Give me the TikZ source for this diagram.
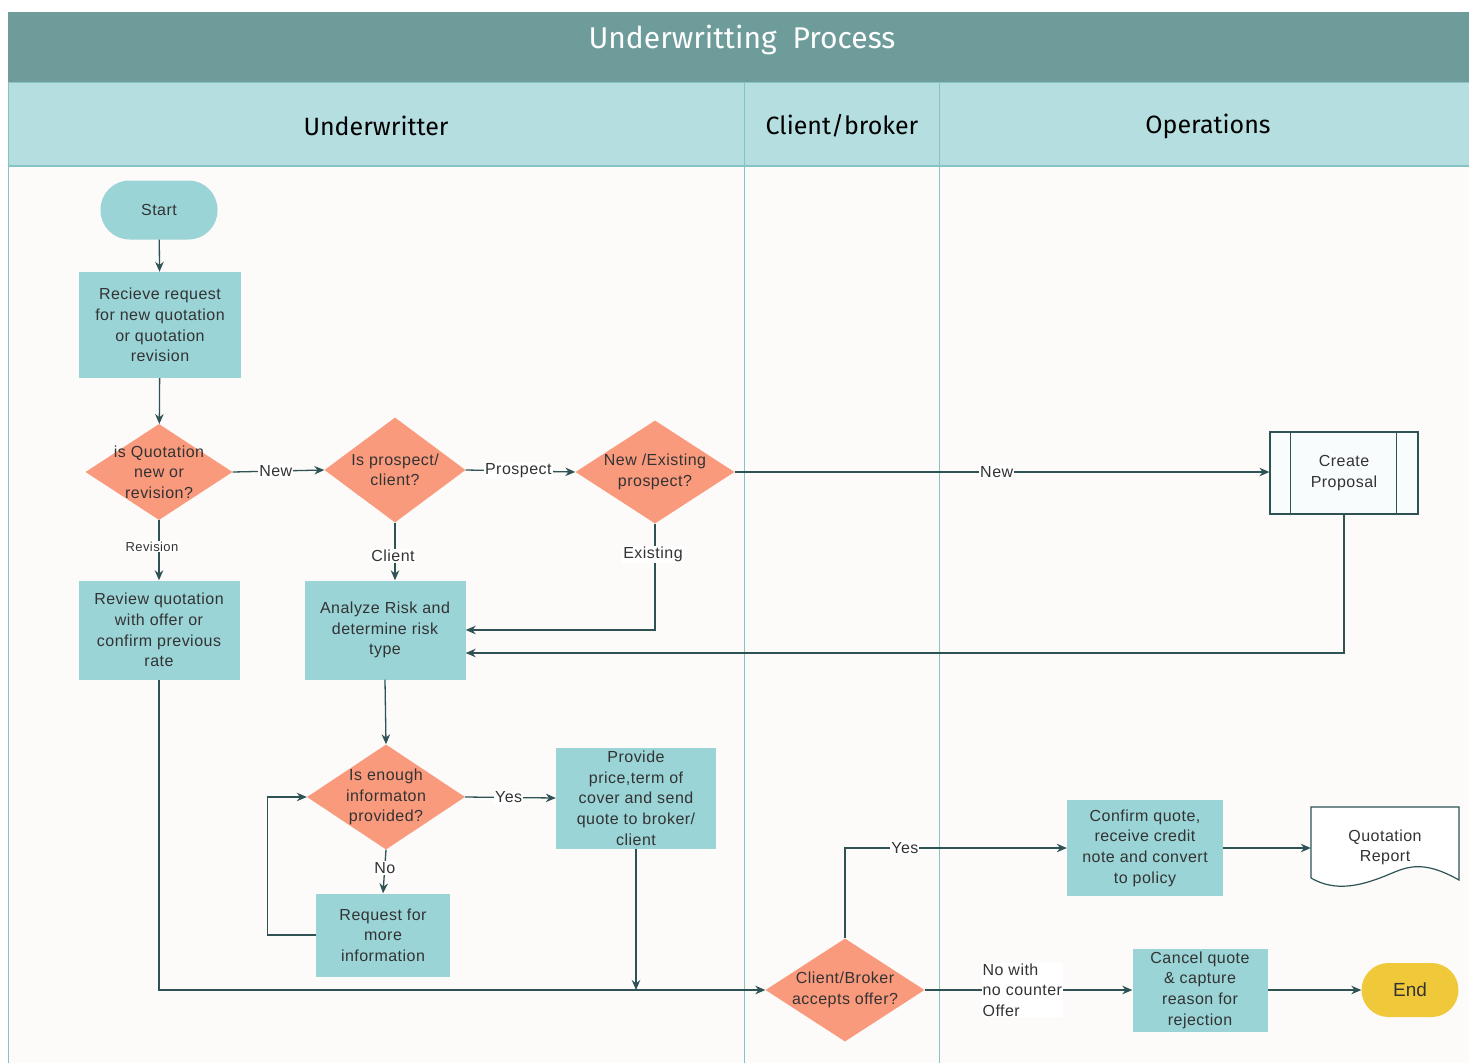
\documentclass[tikz,border=0pt]{standalone}
\usepackage{fontspec}
\setmainfont{Liberation Sans}
\newfontfamily\boxfont[LetterSpace=3]{Liberation Sans}
\newfontfamily\headfont{Fira Sans}
\usetikzlibrary{shapes.geometric,arrows.meta,calc}

\definecolor{titlebar}{HTML}{6E9C9B}
\definecolor{lanehead}{HTML}{B4DEE0}
\definecolor{laneline}{HTML}{86C3C4}
\definecolor{paper}{HTML}{FCFBFA}
\definecolor{procfill}{HTML}{9AD4D6}
\definecolor{decfill}{HTML}{FA9A7D}
\definecolor{endfill}{HTML}{F0C93B}
\definecolor{wire}{HTML}{2F5355}
\definecolor{ink}{HTML}{333333}

\tikzset{
  proc/.style={rectangle, fill=procfill, draw=none, inner sep=0pt,
    text=ink, align=center, font=\boxfont\fontsize{16}{20.7}\selectfont},
  decision/.style={diamond, fill=decfill, draw=none, inner sep=0pt, aspect=1.5},
  dectext/.style={text=ink, align=center, font=\boxfont\fontsize{16}{20.5}\selectfont},
  terminal/.style={rectangle, inner sep=0pt, text=ink, font=\boxfont\fontsize{16}{18}\selectfont},
  flow/.style={draw=wire, line width=1.3pt, -{Stealth[length=10pt,width=8.5pt]}},
  tag/.style={fill=white, inner sep=1pt, text=ink, font=\boxfont\fontsize{16}{17}\selectfont},
  lanetitle/.style={text=black, font=\headfont\fontsize{25}{28}\selectfont}
}

\begin{document}
\begin{tikzpicture}[x=1pt, y=-1pt]
  \useasboundingbox (0,0) rectangle (1469,1063);
  \fill[white] (0,0) rectangle (1469,1063);

  % pool: title bar, lane headers and lane bodies
  \fill[paper] (8,166) rectangle (1469,1063);
  \fill[titlebar] (8,12) rectangle (1469,82);
  \fill[lanehead] (8,82) rectangle (1469,166);
  \draw[laneline, line width=1pt] (8,82) -- (8,1063);
  \draw[laneline, line width=1pt] (744,82) -- (744,1063);
  \draw[laneline, line width=1pt] (939,82) -- (939,1063);
  \draw[laneline, line width=1.2pt] (8,166) -- (1469,166);
  \draw[laneline, line width=1pt] (8,82) -- (1469,82);

  \node (title) [text=white, font=\headfont\fontsize{30}{34}\selectfont] at (742,40) {Underwritting\ \ Process};
  \node (lane1) [lanetitle] at (376,126) {Underwritter};
  \node (lane2) [lanetitle] at (842,126) {Client/broker};
  \node (lane3) [lanetitle] at (1208,126) {Operations};

  % process steps
  \node (start) [terminal, fill=procfill, rounded corners=29pt, minimum width=117pt, minimum height=59pt] at (159,210) {Start};
  \node (recv) [proc, minimum width=162pt, minimum height=106pt] at (160,325)
    {Recieve request\\for new quotation\\or quotation\\revision};
  \node (d1) [decision, minimum width=147pt, minimum height=96pt,
    label={[dectext]center:{is Quotation\\new or\\revision?}}] at (159,472) {};
  \node (d2) [decision, minimum width=141pt, minimum height=105pt,
    label={[dectext]center:{Is prospect/\\client?}}] at (395,470) {};
  \node (d3) [decision, minimum width=159pt, minimum height=103pt,
    label={[dectext]center:{New /Existing\\prospect?}}] at (655,472) {};
  \node (cp) [rectangle, draw=wire, line width=1.2pt, fill=white!94!procfill, inner sep=0pt,
    minimum width=148pt, minimum height=82pt, text=ink, align=center,
    font=\boxfont\fontsize{16}{20.5}\selectfont] at (1344,473) {Create\\Proposal};
  \draw[wire, line width=1.2pt] ($(cp.north west)+(21,0)$) -- ($(cp.south west)+(21,0)$);
  \draw[wire, line width=1.2pt] ($(cp.north east)+(-22,0)$) -- ($(cp.south east)+(-22,0)$);

  \node (review) [proc, minimum width=161pt, minimum height=99pt] at (159,630)
    {Review quotation\\with offer or\\confirm previous\\rate};
  \node (analyze) [proc, minimum width=161pt, minimum height=99pt] at (385,630)
    {Analyze Risk and\\determine risk\\type};
  \node (d4) [decision, minimum width=158pt, minimum height=105pt,
    label={[dectext]center:{Is enough\\informaton\\provided?}}] at (386,797) {};
  \node (provide) [proc, minimum width=160pt, minimum height=101pt] at (636,798)
    {Provide\\price,term of\\cover and send\\quote to broker/\\client};
  \node (request) [proc, minimum width=134pt, minimum height=83pt] at (383,935)
    {Request for\\more\\information};
  \node (d5) [decision, minimum width=159pt, minimum height=103pt,
    label={[dectext]center:{Client/Broker\\accepts offer?}}] at (845,990) {};
  \node (confirm) [proc, minimum width=156pt, minimum height=96pt] at (1145,848)
    {Confirm quote,\\receive credit\\note and convert\\to policy};

  % document shape with a wavy lower edge
  \fill[white] (1311,807) -- (1459,807) -- (1459,880)
    .. controls (1420,858) and (1405,868) .. (1385,876)
    .. controls (1360,886) and (1335,892) .. (1311,878) -- cycle;
  \draw[wire, line width=1.2pt] (1311,878) -- (1311,807) -- (1459,807) -- (1459,880)
    .. controls (1420,858) and (1405,868) .. (1385,876)
    .. controls (1360,886) and (1335,892) .. (1311,878);
  \node (qr) [rectangle, inner sep=0pt, minimum width=148pt, minimum height=82pt,
    text=ink, align=center, font=\boxfont\fontsize{16}{20}\selectfont] at (1385,847)
    {Quotation\\Report};

  \node (cancel) [proc, minimum width=135pt, minimum height=83pt] at (1200,990)
    {Cancel quote\\\& capture\\reason for\\rejection};
  \node (end) [terminal, fill=endfill, rounded corners=27pt, minimum width=97pt, minimum height=54pt,
    font=\fontsize{19}{21}\selectfont] at (1410,990) {End};

  % connectors
  \draw[flow] (start) -- (recv);
  \draw[flow] (recv) -- (d1);
  \draw[flow] (d1.east) -- node[tag, pos=0.47] (tNew1) {New} (d2.west);
  \draw[flow] (d2.east) -- node[tag, pos=0.48] (tPros) {Prospect} (d3.west);
  \draw[flow] (d3.east) -- node[tag, pos=0.49] (tNew2) {New} (d3.east -| cp.west);
  \draw[flow] (d1.south) -- node[tag, pos=0.44, xshift=-7pt, font=\boxfont\fontsize{13}{14}\selectfont] (tRev) {Revision} (review.north);
  \draw[flow] (d2.south) -- node[tag, pos=0.58, xshift=-2pt] (tCli) {Client} (d2.south |- analyze.north);
  \draw[flow] (d3.south) |- node[tag, pos=0.145, xshift=-2pt] (tEx) {Existing} (analyze.east);
  \draw[flow] (cp.south) |- ($(analyze.east)+(0,23)$);
  \draw[flow] (analyze.south) -- (d4.north);
  \draw[flow] (d4.east) -- node[tag, pos=0.48] (tYes1) {Yes} (provide.west);
  \draw[flow] (d4.south) -- node[tag, pos=0.42] (tNo) {No} (request.north);
  \draw[flow] (request.west) -- ++(-48,0) |- (d4.west);
  \draw[flow] (review.south) |- (d5.west);
  \draw[flow] (provide.south) -- (provide.south |- d5.west);
  \draw[flow] (d5.north) |- node[tag, pos=0.635] (tYes2) {Yes} (confirm.west);
  \draw[flow] (confirm.east) -- (confirm.east -| qr.west);
  \draw[flow] (d5.east) -- node[tag, pos=0.48, xshift=-2pt, align=left, font=\boxfont\fontsize{16}{20.5}\selectfont] (tNoOffer) {No with\\no counter\\Offer} (cancel.west);
  \draw[flow] (cancel.east) -- (end.west);
\end{tikzpicture}
\end{document}
